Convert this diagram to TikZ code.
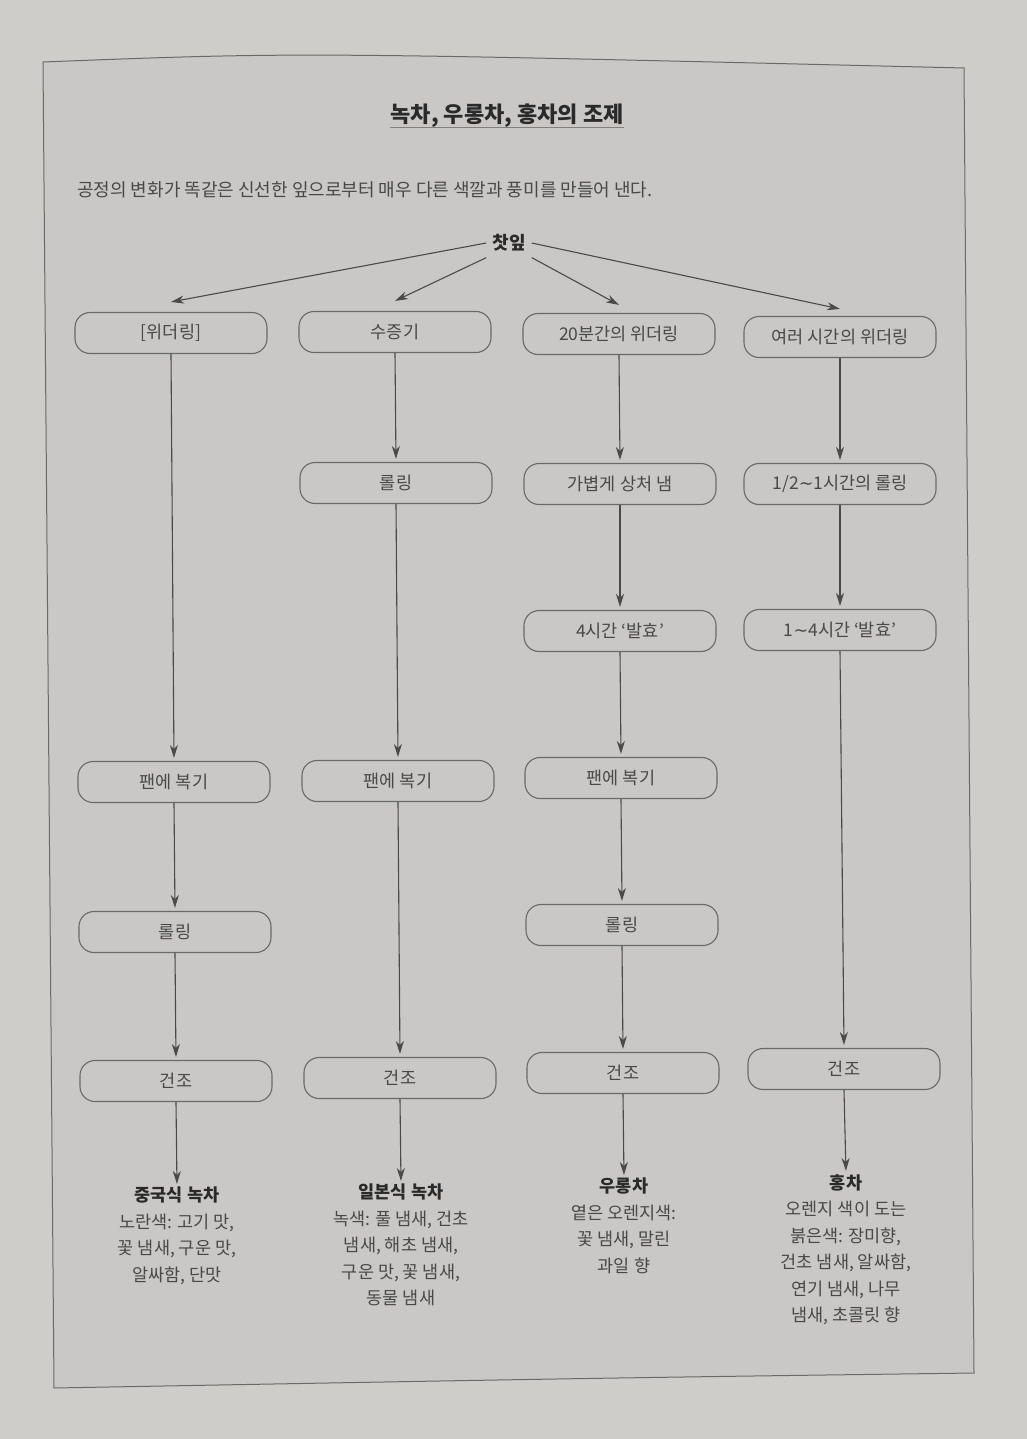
\documentclass[tikz,border=0pt]{standalone}
\usepackage{fontspec}
\setmainfont{Noto Sans CJK KR}
\newfontfamily\simboli{DejaVu Sans}
\usetikzlibrary{arrows.meta,%
		positioning}
\definecolor{fondo}{RGB}{207,205,201}
\definecolor{pannello}{RGB}{201,200,198}
\definecolor{bordo}{RGB}{105,105,105}
\definecolor{testo}{RGB}{72,72,72}
\definecolor{scuro}{RGB}{42,42,42}
\newcommand{\onda}{{\simboli ∼}}

\begin{document}
\begin{tikzpicture}[x=1pt,y=-1pt,font=\fontsize{17.5}{26.5}\selectfont,
	fase/.style={draw=bordo,line width=1.1pt,rounded corners=15pt,minimum width=192pt,minimum height=41pt,inner sep=0pt,text=testo},
	freccia/.style={draw=scuro!85,line width=1.1pt,-{Stealth[length=13pt,width=8pt,inset=4pt]}},
	esito/.style={align=center,anchor=north,inner sep=0pt,text=testo}]
\useasboundingbox (0,0) rectangle (1027,1439);
\fill[fondo] (0,0) rectangle (1027,1439);
%pannello
\filldraw[fill=pannello,draw=bordo,line width=1pt] (43,62) .. controls (300,52) .. (964,68) -- (974,1373) .. controls (600,1378) .. (54,1388) -- cycle;

%titolo
\node[inner sep=0pt,text=scuro,font=\fontsize{22}{26}\selectfont\bfseries] (titolo) at (507,116) {녹차, 우롱차, 홍차의 조제};
\draw[gray,line width=1.3pt] ([yshift=-5pt]titolo.base west) -- ([yshift=-5pt]titolo.base east);
\node[inner sep=0pt,anchor=west,text=testo,font=\fontsize{18}{22}\selectfont] (sotto) at (77,190) {공정의 변화가 똑같은 신선한 잎으로부터 매우 다른 색깔과 풍미를 만들어 낸다.};
\node[inner sep=6pt,text=scuro,font=\fontsize{18}{22}\selectfont\bfseries] (foglie) at (509,243) {찻잎};

%prima riga
\node[fase] (A1) at (171,333) {[위더링]};
\node[fase] (B1) at (395,332) {수증기};
\node[fase] (C1) at (619,334) {20분간의 위더링};
\node[fase] (D1) at (840,337) {여러 시간의 위더링};

\draw[freccia] (foglie.west) -- ([yshift=10pt]A1.north);
\draw[freccia] (foglie.south west) -- ([yshift=10pt]B1.north);
\draw[freccia] (foglie.south east) -- ([yshift=8pt]C1.north);
\draw[freccia] (foglie.east) -- ([yshift=7pt]D1.north);

%seconda e terza riga
\node[fase] (B2) at (396,483) {롤링};
\node[fase] (C2) at (620,484) {가볍게 상처 냄};
\node[fase] (D2) at (840,484) {1/2\onda 1시간의 롤링};
\node[fase] (C3) at (620,631) {4시간 ‘발효’};
\node[fase] (D3) at (840,630) {1\onda 4시간 ‘발효’};

%quarta e quinta riga
\node[fase] (A4) at (174,782) {팬에 복기};
\node[fase] (B4) at (398,781) {팬에 복기};
\node[fase] (C4) at (621,778) {팬에 복기};
\node[fase] (A5) at (175,932) {롤링};
\node[fase] (C5) at (622,925) {롤링};

%건조
\node[fase] (A6) at (176,1081) {건조};
\node[fase] (B6) at (400,1078) {건조};
\node[fase] (C6) at (623,1073) {건조};
\node[fase] (D6) at (844,1069) {건조};

%esiti
\node[esito] (RA) at (177,1187) {{\color{scuro}\bfseries 중국식 녹차}\\노란색: 고기 맛,\\꽃 냄새, 구운 맛,\\알싸함, 단맛};
\node[esito] (RB) at (401,1184) {{\color{scuro}\bfseries 일본식 녹차}\\녹색: 풀 냄새, 건초\\냄새, 해초 냄새,\\구운 맛, 꽃 냄새,\\동물 냄새};
\node[esito] (RC) at (624,1178) {{\color{scuro}\bfseries 우롱차}\\옅은 오렌지색:\\꽃 냄새, 말린\\과일 향};
\node[esito] (RD) at (846,1174) {{\color{scuro}\bfseries 홍차}\\오렌지 색이 도는\\붉은색: 장미향,\\건초 냄새, 알싸함,\\연기 냄새, 나무\\냄새, 초콜릿 향};

%frecce verticali
\foreach \a/\b in {A1/A4,A4/A5,A5/A6,A6/RA,
	B1/B2,B2/B4,B4/B6,B6/RB,
	C1/C2,C2/C3,C3/C4,C4/C5,C5/C6,C6/RC,
	D1/D2,D2/D3,D3/D6,D6/RD}
	\draw[freccia,shorten >=3pt] (\a.south) -- (\b.north);
\end{tikzpicture}
\end{document}
